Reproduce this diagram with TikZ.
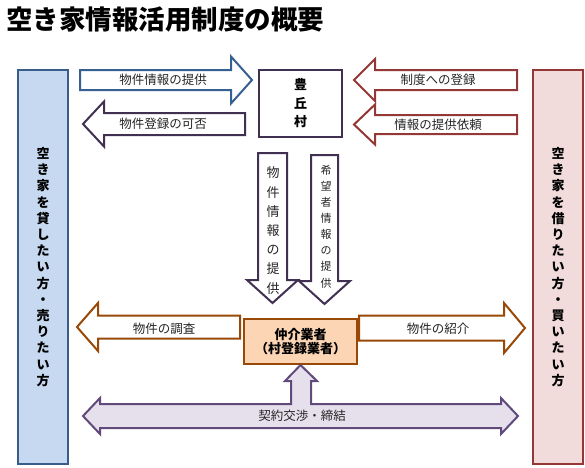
\documentclass[tikz,border=0pt]{standalone}
\usepackage{fontspec}
\setmainfont{Noto Sans CJK JP}

\definecolor{ownerline}{HTML}{385D8A}
\definecolor{ownerfill}{HTML}{C6D9F1}
\definecolor{userline}{HTML}{953735}
\definecolor{userfill}{HTML}{F2DCDB}
\definecolor{villline}{HTML}{403152}
\definecolor{infoline}{HTML}{376092}
\definecolor{agentline}{HTML}{984807}
\definecolor{agentfill}{HTML}{FCD5B5}
\definecolor{dealline}{HTML}{604A7B}
\definecolor{dealfill}{HTML}{E6E0EC}

% block arrow, left or right: style, tail x, tip x, y, body half, head half
\newcommand{\harrow}[6]{%
  \pgfmathsetmacro{\hbase}{#3-21*sign(#3-#2)}
  \draw[#1] (#2,#4-#5) -- (\hbase,#4-#5) -- (\hbase,#4-#6) -- (#3,#4)
    -- (\hbase,#4+#6) -- (\hbase,#4+#5) -- (#2,#4+#5) -- cycle;}
% block arrow, down: style, x, top y, tip y, body half, head half
\newcommand{\varrow}[6]{%
  \draw[#1] (#2-#5,#3) -- (#2+#5,#3) -- (#2+#5,#4-23) -- (#2+#6,#4-23)
    -- (#2,#4) -- (#2-#6,#4-23) -- (#2-#5,#4-23) -- cycle;}

\begin{document}
\begin{tikzpicture}[x=1pt, y=-1pt, line width=2pt, line join=miter,
    lbl/.style={text=black!85, font=\fontsize{12.5}{14}\selectfont},
    column/.style={minimum width=50, minimum height=394, align=center,
      font=\fontsize{13}{16.2}\selectfont\bfseries},
    box/.style={align=center, font=\fontsize{13}{14.5}\selectfont\bfseries}]
  \useasboundingbox (0,0) rectangle (585,467);

  \node[anchor=west, font=\fontsize{26.5}{28}\selectfont\bfseries] (title) at (2,19) {空き家情報活用制度の概要};

  % the two sides
  \node[column, draw=ownerline, fill=ownerfill] (owner) at (43,267)
    {空\\き\\家\\を\\貸\\し\\た\\い\\方\\・\\売\\り\\た\\い\\方};
  \node[column, draw=userline, fill=userfill] (user) at (558,267)
    {空\\き\\家\\を\\借\\り\\た\\い\\方\\・\\買\\い\\た\\い\\方};

  % arrows
  \harrow{draw=infoline, fill=white}{80}{252}{80}{10}{23.5}
  \harrow{draw=villline, fill=white}{245}{83}{124}{11}{22.5}
  \harrow{draw=userline, fill=white}{517}{354}{80}{10}{21}
  \harrow{draw=userline, fill=white}{517}{354}{124.5}{9.5}{20}
  \harrow{draw=agentline, fill=white}{240}{77}{327}{11.5}{24}
  \harrow{draw=agentline, fill=white}{359}{525}{328}{12.5}{25}
  \varrow{draw=villline, fill=white}{272.5}{153}{303}{14.5}{25.5}
  \varrow{draw=villline, fill=white}{324.5}{155}{304}{13.5}{25.5}

  \node[box, draw=villline, fill=white, minimum width=83, minimum height=67,
    font=\fontsize{13}{18.5}\selectfont\bfseries] (village) at (300.5,103.5) {豊\\丘\\村};
  \node[box, draw=agentline, fill=agentfill, minimum width=113, minimum height=45]
    (agent) at (300.5,341.5) {仲介業者\\（村登録業者）};

  \draw[draw=dealline, fill=dealfill] (agent.south) -- (317,381) -- (311,381) -- (311,404)
    -- (501,404) -- (501,398) -- (518,416) -- (501,434) -- (501,428)
    -- (100,428) -- (100,434) -- (83,416) -- (100,398) -- (100,404)
    -- (291,404) -- (291,381) -- (285,381) -- cycle;

  % labels
  \node[lbl] (offer) at (163,80) {物件情報の提供};
  \node[lbl] (reply) at (163,124) {物件登録の可否};
  \node[lbl] (register) at (438,80) {制度への登録};
  \node[lbl] (request) at (438,125) {情報の提供依頼};
  \node[lbl] (survey) at (164,329) {物件の調査};
  \node[lbl] (intro) at (438,329) {物件の紹介};
  \node[lbl] (deal) at (302,416) {契約交渉・締結};
  \node[lbl, align=center, font=\fontsize{13}{19.2}\selectfont] (offerdown) at (273,230.5)
    {物\\件\\情\\報\\の\\提\\供};
  \node[lbl, align=center, font=\fontsize{11}{16.1}\selectfont] (wishdown) at (326,226.5)
    {希\\望\\者\\情\\報\\の\\提\\供};
\end{tikzpicture}
\end{document}
